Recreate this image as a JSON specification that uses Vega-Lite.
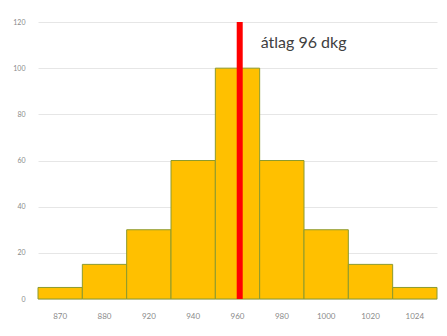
{
  "$schema": "https://vega.github.io/schema/vega-lite/v6.json",
  "width": 399,
  "height": 277,
  "autosize": {"type": "none"},
  "padding": {"left": 38, "top": 22, "right": 10, "bottom": 37},
  "background": "white",
  "config": {
    "view": {"stroke": null},
    "font": "Lato"
  },
  "datasets": {
    "bins": [
      {"tomeg": "870", "db": 5},
      {"tomeg": "880", "db": 15},
      {"tomeg": "920", "db": 30},
      {"tomeg": "940", "db": 60},
      {"tomeg": "960", "db": 100},
      {"tomeg": "980", "db": 60},
      {"tomeg": "1000", "db": 30},
      {"tomeg": "1020", "db": 15},
      {"tomeg": "1024", "db": 5}
    ],
    "atlag": [
      {"tomeg": "960", "y0": 0, "y1": 120, "felirat": "átlag 96 dkg", "ty": 111, "tx": "980"}
    ]
  },
  "layer": [
    {
      "data": {"name": "bins"},
      "mark": {"type": "bar", "color": "#FFC000", "stroke": "#8C9A2E", "strokeWidth": 1},
      "encoding": {
        "x": {
          "field": "tomeg", "type": "ordinal",
          "scale": {
            "domain": ["870", "880", "920", "940", "960", "980", "1000", "1020", "1024"],
            "paddingInner": 0, "paddingOuter": 0
          },
          "axis": {
            "title": null, "labelAngle": 0, "ticks": false, "domain": false,
            "labelColor": "#8a8a8a", "labelFontSize": 8, "labelPadding": 13
          }
        },
        "y": {
          "field": "db", "type": "quantitative",
          "scale": {"domain": [0, 120], "nice": false},
          "axis": {
            "title": null, "values": [0, 20, 40, 60, 80, 100, 120],
            "ticks": false, "domain": false, "gridColor": "#e6e6e6",
            "labelColor": "#8a8a8a", "labelFontSize": 7, "labelPadding": 13
          }
        }
      }
    },
    {
      "data": {"name": "atlag"},
      "mark": {"type": "rule", "color": "#FF0000", "strokeWidth": 6},
      "encoding": {
        "x": {"field": "tomeg", "type": "ordinal", "bandPosition": 0.55},
        "y": {"field": "y0", "type": "quantitative"},
        "y2": {"field": "y1"}
      }
    },
    {
      "data": {"name": "atlag"},
      "mark": {"type": "text", "align": "left", "baseline": "middle", "fontSize": 16, "color": "#404040", "dx": 1},
      "encoding": {
        "x": {"field": "tx", "type": "ordinal", "bandPosition": 0},
        "y": {"field": "ty", "type": "quantitative"},
        "text": {"field": "felirat"}
      }
    }
  ]
}
